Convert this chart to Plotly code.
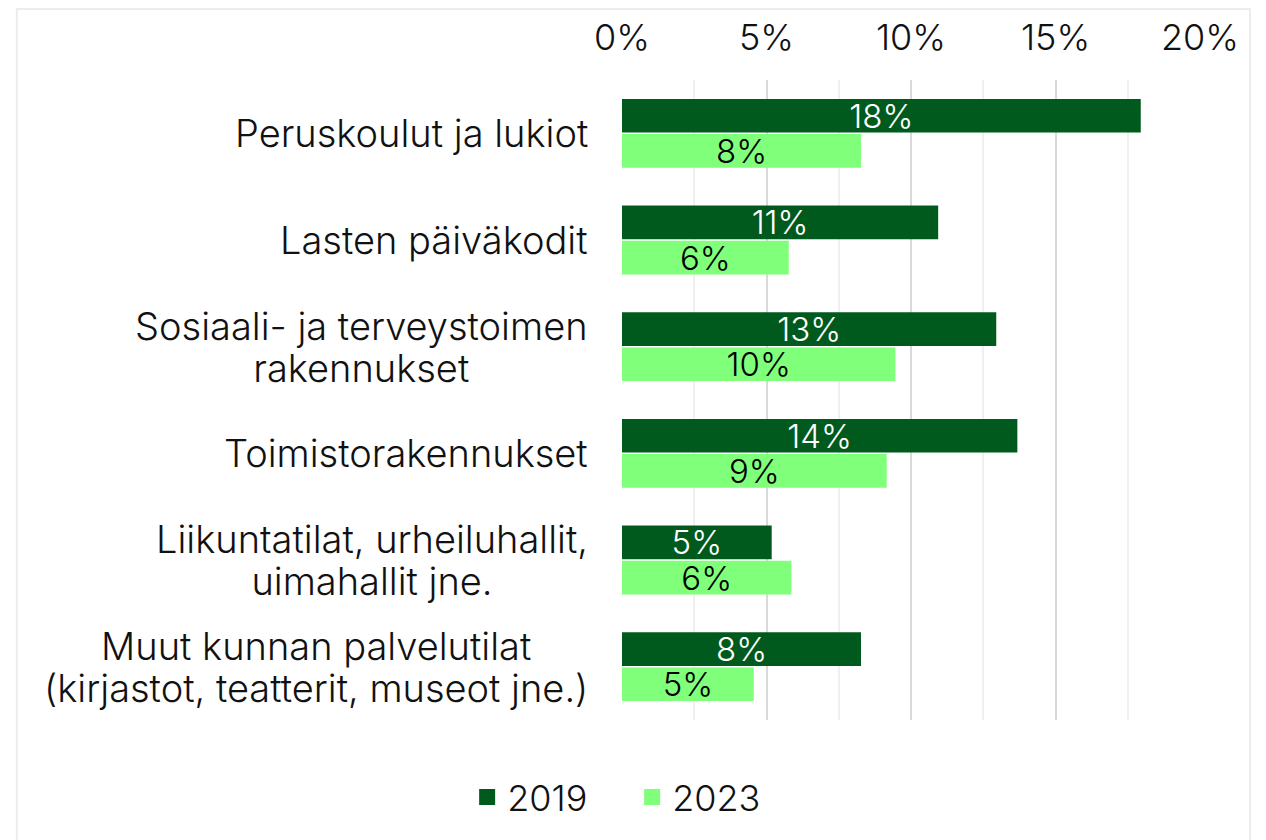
import plotly.graph_objects as go

categories = [
    "Peruskoulut ja lukiot",
    "Lasten päiväkodit",
    "Sosiaali- ja terveystoimen<br>rakennukset",
    "Toimistorakennukset",
    "Liikuntatilat, urheiluhallit,<br>uimahallit jne.",
    "Muut kunnan palvelutilat<br>(kirjastot, teatterit, museot jne.)",
]
values_2019 = [17.95, 10.94, 12.95, 13.68, 5.18, 8.27]
values_2023 = [8.27, 5.77, 9.46, 9.16, 5.86, 4.56]
labels_2019 = ["18%", "11%", "13%", "14%", "5%", "8%"]
labels_2023 = ["8%", "6%", "10%", "9%", "6%", "5%"]
series_names = ["2019", "2023"]
tick_vals = [0, 5, 10, 15, 20]
tick_text = ["0%", "5%", "10%", "15%", "20%"]

DARK = "#005a1e"
LIGHT = "#80ff7a"
FONT = "Inter"
TXT = "#111111"

fig = go.Figure()
for name, vals, labs, col, tcol in [
    (series_names[0], values_2019, labels_2019, DARK, "white"),
    (series_names[1], values_2023, labels_2023, LIGHT, "black"),
]:
    fig.add_trace(go.Bar(
        y=categories, x=vals, name=name, orientation="h",
        marker=dict(color=col, line=dict(width=0)),
        text=labs, textposition="inside", insidetextanchor="middle",
        textangle=0, constraintext="none", showlegend=False,
        legendgroup=name,
        textfont=dict(family=FONT, size=33, color=tcol, weight=300),
    ))

# legend entries (square swatches)
for name, col in [(series_names[0], DARK), (series_names[1], LIGHT)]:
    fig.add_trace(go.Scatter(
        x=[None], y=[None], mode="markers", name=name, legendgroup=name,
        marker=dict(symbol="square", size=18, color=col, line=dict(width=0)),
        showlegend=True, hoverinfo="skip",
    ))

for c in categories:
    lines = c.split("<br>")
    label = "<br>".join(f"<span style='font-size:38px'>{ln}</span>" for ln in lines)
    fig.add_annotation(
        x=0, xref="paper", y=c, yref="y", text=label, showarrow=False,
        xanchor="right", yanchor="middle", align="center", xshift=-32,
        font=dict(family=FONT, size=32, color=TXT, weight=300),
    )

fig.add_shape(type="rect", xref="paper", yref="paper",
              x0=-1.047, x1=1.0865, y0=-0.2, y1=1.111,
              line=dict(color="#ececec", width=2), fillcolor="rgba(0,0,0,0)", layer="below")

fig.update_layout(
    width=1266, height=840,
    margin=dict(l=614, r=74, t=72, b=128, autoexpand=False),
    paper_bgcolor="white", plot_bgcolor="white",
    barmode="group", bargap=0.34, bargroupgap=0.043,
    font=dict(family=FONT, size=32, color=TXT, weight=300),
    showlegend=True,
    legend=dict(orientation="h", xref="container", yref="container",
                x=0.493, xanchor="center", y=0.0607, yanchor="middle",
                font=dict(family=FONT, size=36, color=TXT, weight=300),
                itemwidth=30, entrywidth=120, entrywidthmode="pixels",
                traceorder="normal", itemclick=False, itemdoubleclick=False),
    xaxis=dict(
        side="top", range=[0, 20], tickvals=tick_vals, ticktext=tick_text,
        automargin=False,
        showgrid=True, gridcolor="#d9d9d9", gridwidth=2,
        zeroline=False, showline=False,
        ticks="outside", ticklen=15, tickcolor="rgba(0,0,0,0)",
        tickfont=dict(family=FONT, size=36, color=TXT, weight=300),
        minor=dict(dtick=2.5, tick0=0, showgrid=True, gridcolor="#f0f0f0", gridwidth=2, ticks=""),
    ),
    yaxis=dict(
        autorange="reversed", showticklabels=False, showgrid=False,
        zeroline=False, showline=False, ticks="", automargin=False,
    ),
)

fig.write_html("out.html")
